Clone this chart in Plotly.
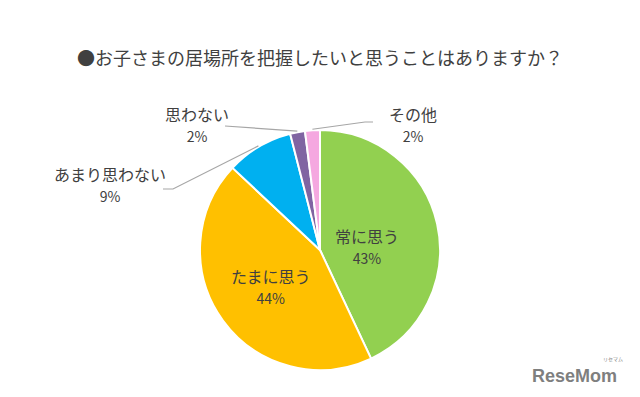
import math
import plotly.graph_objects as go

title = "●お子さまの居場所を把握したいと思うことはありますか？"
labels = ["常に思う", "たまに思う", "あまり思わない", "思わない", "その他"]
values = [43, 44, 9, 2, 2]
colors = ["#92D050", "#FFC000", "#00B0F0", "#8064A2", "#F5A8E0"]

W, H = 640, 397
CX, CY, R = 320, 250, 120
FONT = "Noto Sans CJK JP"
TXT = "#404040"


def px(x):
    return x / W


def py(y):
    return 1 - y / H


fig = go.Figure(go.Pie(
    labels=labels, values=values, sort=False, direction="clockwise", rotation=0,
    marker=dict(colors=colors, line=dict(color="white", width=2)),
    textinfo="none", hoverinfo="label+percent", showlegend=False,
    domain=dict(x=[px(CX - R), px(CX + R)], y=[py(CY + R), py(CY - R)]),
))

total = sum(values)
mids = []
cum = 0
for v in values:
    mids.append((cum + v / 2) / total * 2 * math.pi)
    cum += v

# label placement (styling): center of label text block, leader elbow/end
inside = {0: (367, 246), 1: (271, 286)}
outside = {
    2: dict(text=(110, 184), elbow=(173, 189), end=(163, 189)),
    3: dict(text=(197, 124), elbow=(225, 126), end=(225, 126)),
    4: dict(text=(413, 124), elbow=(365, 122), end=(373, 122)),
}


def ann(text, x, y, **font):
    return dict(text=text, x=px(x), y=py(y), xref="paper", yref="paper",
                xanchor="center", yanchor="middle", showarrow=False,
                align="center", font=font)


annotations = [ann(title, 320, 57, family=FONT, size=18, color=TXT)]
shapes = []
for i, (lab, v) in enumerate(zip(labels, values)):
    txt = f"{lab}<br><span style='font-size:14px'>{v}%</span>"
    if i in inside:
        x, y = inside[i]
    else:
        x, y = outside[i]["text"]
        a = mids[i]
        sx, sy = CX + (R + 1) * math.sin(a), CY - (R + 1) * math.cos(a)
        ex, ey = outside[i]["elbow"]
        fx, fy = outside[i]["end"]
        path = f"M {px(sx)} {py(sy)} L {px(ex)} {py(ey)} L {px(fx)} {py(fy)}"
        shapes.append(dict(type="path", path=path, xref="paper", yref="paper",
                           line=dict(color="#A6A6A6", width=1.2)))
    annotations.append(ann(txt, x, y, family=FONT, size=16, color=TXT))

annotations.append(ann("<b>ReseMom</b>", 574, 376, family="Liberation Sans", size=18, color="#7F7F7F"))
annotations.append(ann("リセマム", 613, 359, family=FONT, size=5, color="#7F7F7F"))

fig.update_layout(width=W, height=H, margin=dict(l=0, r=0, t=0, b=0),
                  paper_bgcolor="white", plot_bgcolor="white",
                  annotations=annotations, shapes=shapes)
fig.write_html("out.html", config={"displayModeBar": False},
               post_script="document.body.style.margin='0';")
